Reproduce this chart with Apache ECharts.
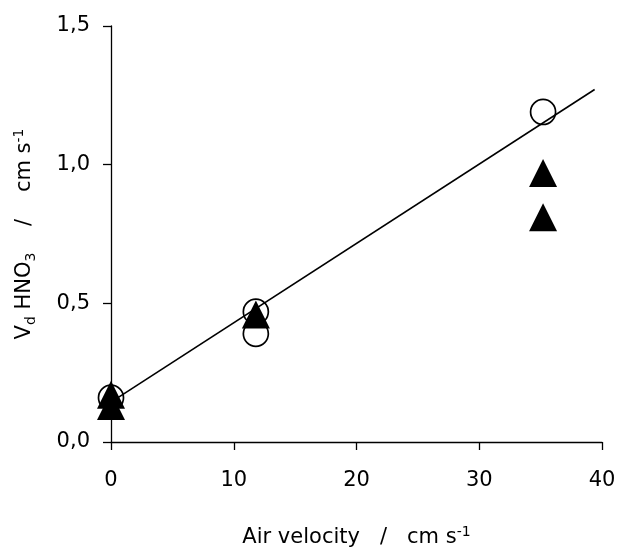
<!DOCTYPE html>
<html>
<head>
<meta charset="utf-8">
<script src="https://cdn.jsdelivr.net/npm/echarts@6/dist/echarts.min.js"></script>
<style>
  html, body { margin: 0; padding: 0; background: #fff; }
  #chart { width: 617px; height: 549px; }
</style>
</head>
<body>
<div id="chart"></div>
<script>
// Deposition velocity of HNO3 versus air velocity
const xTicks = [0, 10, 20, 30, 40];
const yTicks = ['0,0', '0,5', '1,0', '1,5'];

// open circles
const circleVelocity = [0, 11.8, 11.8, 35.2];
const circleVd = [0.16, 0.47, 0.39, 1.19];

// filled triangles
const triangleVelocity = [0, 0, 11.8, 35.2, 35.2];
const triangleVd = [0.17, 0.13, 0.46, 0.97, 0.81];

// linear fit
const fitVelocity = [0, 39.4];
const fitVd = [0.144, 1.271];

const FONT = '"DejaVu Sans", Verdana, sans-serif';
const pairs = (xs, ys) => xs.map((x, i) => [x, ys[i]]);

const titleRich = {
  m: { fontSize: 21, lineHeight: 26, fontFamily: FONT, color: '#000' },
  sup: { fontSize: 14, lineHeight: 12, verticalAlign: 'top', fontFamily: FONT, color: '#000' },
  sub: { fontSize: 14, lineHeight: 22, verticalAlign: 'bottom', fontFamily: FONT, color: '#000' }
};

const chart = echarts.init(document.getElementById('chart'), null, { renderer: 'canvas' });
chart.setOption({
  animation: false,
  backgroundColor: '#fff',
  grid: { left: 111, right: 15, top: 26, bottom: 107, containLabel: false, outerBoundsMode: 'none' },
  xAxis: {
    type: 'value',
    min: xTicks[0],
    max: xTicks[xTicks.length - 1],
    interval: 10,
    name: '{m|Air velocity   /   cm s}{sup|-1}',
    nameLocation: 'middle',
    nameGap: 83,
    nameTextStyle: { rich: titleRich },
    axisLine: { onZero: false, lineStyle: { color: '#000', width: 1.3 } },
    axisTick: { show: true, inside: false, length: 8, lineStyle: { color: '#000', width: 1.3 } },
    axisLabel: { margin: 28, fontSize: 21, fontFamily: FONT, color: '#000' },
    splitLine: { show: false }
  },
  yAxis: {
    type: 'value',
    min: 0,
    max: 1.5,
    interval: 0.5,
    name: '{m|V}{sub|d}{m| HNO}{sub|3}{m|    /    cm s}{sup|-1}',
    nameLocation: 'middle',
    nameGap: 73,
    nameTextStyle: { rich: titleRich },
    axisLine: { onZero: false, lineStyle: { color: '#000', width: 1.3 } },
    axisTick: { show: true, inside: false, length: 8, lineStyle: { color: '#000', width: 1.3 } },
    axisLabel: {
      margin: 21, fontSize: 21, fontFamily: FONT, color: '#000',
      formatter: v => yTicks[Math.round(v / 0.5)]
    },
    splitLine: { show: false }
  },
  series: [
    {
      type: 'line',
      data: pairs(fitVelocity, fitVd),
      showSymbol: false,
      symbol: 'none',
      lineStyle: { color: '#000', width: 1.6 },
      z: 1
    },
    {
      type: 'scatter',
      data: pairs(circleVelocity, circleVd),
      symbol: 'circle',
      symbolSize: 25,
      itemStyle: { color: 'rgba(0,0,0,0)', borderColor: '#000', borderWidth: 1.7, opacity: 1 },
      z: 2
    },
    {
      type: 'scatter',
      data: pairs(triangleVelocity, triangleVd),
      symbol: 'triangle',
      symbolSize: 28,
      itemStyle: { color: '#000', opacity: 1 },
      z: 3
    }
  ]
});
</script>
</body>
</html>
